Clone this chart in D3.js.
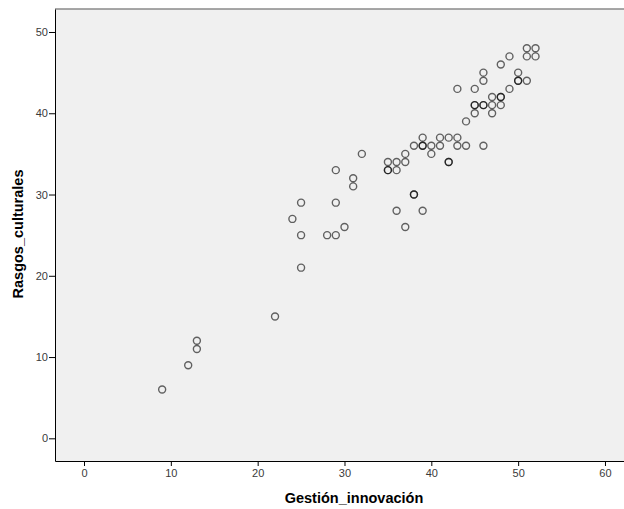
<!DOCTYPE html>
<html>
<head>
<meta charset="utf-8">
<script src="https://cdn.jsdelivr.net/npm/d3@7"></script>
<style>
  body { margin: 0; background: #fff; }
  svg { display: block; font-family: "Liberation Sans", Arial, sans-serif; }
  .axis text { font-size: 11px; fill: #3a3a3a; }
  .axis path, .axis line { stroke: #000; }
</style>
</head>
<body>
<script>
// Gestión_innovación (x) vs Rasgos_culturales (y)
var gestion = [9, 12, 13, 13, 22, 24, 25, 25, 25, 28, 29, 29, 29, 30, 31, 31, 32,
  35, 35, 35, 36, 36, 36, 37, 37, 37, 38, 38, 38, 39, 39, 39, 39, 40, 40, 41, 41,
  42, 42, 42, 43, 43, 43, 44, 44, 45, 45, 45, 45, 46, 46, 46, 46, 46, 47, 47, 47,
  48, 48, 48, 48, 49, 49, 50, 50, 50, 51, 51, 51, 52, 52];
var rasgos = [6, 9, 11, 12, 15, 27, 29, 25, 21, 25, 25, 29, 33, 26, 32, 31, 35,
  34, 33, 33, 34, 33, 28, 35, 34, 26, 36, 30, 30, 37, 36, 36, 28, 36, 35, 37, 36,
  37, 34, 34, 37, 36, 43, 36, 39, 43, 41, 41, 40, 45, 44, 41, 41, 36, 42, 41, 40,
  46, 42, 42, 41, 47, 43, 45, 44, 44, 48, 47, 44, 48, 47];
var xTicks = [0, 10, 20, 30, 40, 50, 60];
var yTicks = [0, 10, 20, 30, 40, 50];

var W = 624, H = 509;
var margin = {top: 9, right: 0, bottom: 48, left: 55};
var width = W - margin.left - margin.right,
    height = H - margin.top - margin.bottom;

var svg = d3.select('body').append('svg')
    .attr('width', W)
    .attr('height', H);

var g = svg.append('g')
    .attr('transform', 'translate(' + margin.left + ',' + margin.top + ')');

var x = d3.scaleLinear().domain([-3.34, 62.19]).range([0, width]);
var y = d3.scaleLinear().domain([-2.79, 52.83]).range([height, 0]);

// plot background + top border
g.append('rect')
    .attr('width', width)
    .attr('height', height)
    .attr('fill', '#f0f0f0');
g.append('line')
    .attr('x1', 0).attr('x2', width)
    .attr('y1', 0).attr('y2', 0)
    .attr('stroke', '#8a8a8a')
    .attr('stroke-width', 1.5);

var xAxis = d3.axisBottom(x).tickValues(xTicks).tickSize(5).tickSizeOuter(0);
var yAxis = d3.axisLeft(y).tickValues(yTicks).tickSize(6).tickSizeOuter(0);

g.append('g')
    .attr('class', 'x axis')
    .attr('transform', 'translate(0,' + height + ')')
    .call(xAxis)
    .call(function(s) { s.selectAll('text').attr('dy', '0.9em').attr('y', 6); });

g.append('g')
    .attr('class', 'y axis')
    .call(yAxis)
    .call(function(s) { s.selectAll('text').attr('x', -7); });

// points
var pts = gestion.map(function(v, i) { return {x: v, y: rasgos[i]}; });
g.selectAll('.dot')
    .data(pts)
    .enter().append('circle')
    .attr('class', 'dot')
    .attr('cx', function(d) { return x(d.x); })
    .attr('cy', function(d) { return y(d.y); })
    .attr('r', 3.5)
    .attr('fill', 'none')
    .attr('stroke', '#000')
    .attr('stroke-opacity', 0.6)
    .attr('stroke-width', 1.4);

svg.append('text')
    .attr('x', 354)
    .attr('y', 503)
    .attr('text-anchor', 'middle')
    .attr('font-size', '14.5px')
    .attr('font-weight', 'bold')
    .text('Gestión_innovación');

svg.append('text')
    .attr('transform', 'translate(23,234) rotate(-90)')
    .attr('text-anchor', 'middle')
    .attr('font-size', '14.5px')
    .attr('font-weight', 'bold')
    .text('Rasgos_culturales');
</script>
</body>
</html>
